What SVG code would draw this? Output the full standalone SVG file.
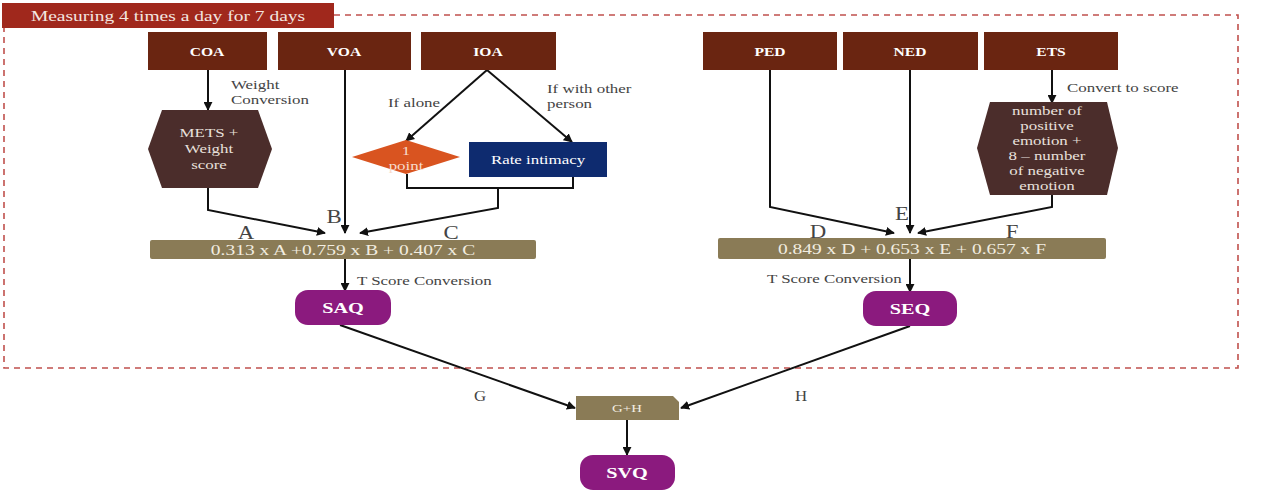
<svg xmlns="http://www.w3.org/2000/svg" width="1274" height="495" viewBox="0 0 1274 495">
<defs>
<marker id="ah" viewBox="0 0 10 10" refX="9" refY="5" markerWidth="9" markerHeight="9" markerUnits="userSpaceOnUse" orient="auto">
<path d="M0,0 L10,5 L0,10 z" fill="#111"/>
</marker>
<style>
text{font-family:"Liberation Serif",serif}
.top{fill:#6a2511}
.tt{font-weight:bold;font-size:12px;fill:#fff;text-anchor:middle}
.hex{fill:#4b2d2b}
.ht{font-size:13px;fill:#e8e0dc;text-anchor:middle}
.pn{font-size:13px;fill:#f7dccd;text-anchor:middle}
.lbl{font-size:13px;fill:#444}
.big{font-size:19px;fill:#444;text-anchor:middle}
.gh{font-size:14px;fill:#444;text-anchor:middle}
.bar{fill:#8a7b56}
.bt{font-size:15px;fill:#f2ede0;text-anchor:middle}
.pur{fill:#8b1a7e}
.pt{font-weight:bold;font-size:15px;fill:#fff;text-anchor:middle}
.ln{fill:none;stroke:#111;stroke-width:2}
</style>
</defs>
<rect width="1274" height="495" fill="#fff"/>
<g id="frame">
<path d="M334,15 H1238 V368 H4 V28" fill="none" stroke="#c0504d" stroke-width="1.6" stroke-dasharray="6,5"/>
<rect x="2" y="3" width="332" height="25" fill="#a0281c"/>
<text transform="translate(168,21) scale(1.3,1)" font-size="15" fill="#f3e6e0" text-anchor="middle">Measuring 4 times a day for 7 days</text>
</g>
<g id="connectors">
<path class="ln" d="M208,70 V110" marker-end="url(#ah)"/>
<path class="ln" d="M208,188 V210 L325,233" marker-end="url(#ah)"/>
<path class="ln" d="M345,70 V233" marker-end="url(#ah)"/>
<path class="ln" d="M487,70 L406,141" marker-end="url(#ah)"/>
<path class="ln" d="M487,70 L572,142" marker-end="url(#ah)"/>
<path class="ln" d="M407,174 V188 H573 V177"/>
<path class="ln" d="M498,188 V208 L360,233" marker-end="url(#ah)"/>
<path class="ln" d="M345,259 V291" marker-end="url(#ah)"/>
<path class="ln" d="M770,70 V207 L894,233" marker-end="url(#ah)"/>
<path class="ln" d="M910,70 V233" marker-end="url(#ah)"/>
<path class="ln" d="M1052,70 V103" marker-end="url(#ah)"/>
<path class="ln" d="M1052,195 V207 L918,233" marker-end="url(#ah)"/>
<path class="ln" d="M910,259 V292" marker-end="url(#ah)"/>
<path class="ln" d="M340,325 L575,408" marker-end="url(#ah)"/>
<path class="ln" d="M910,326 L681,408" marker-end="url(#ah)"/>
<path class="ln" d="M627,420 V455" marker-end="url(#ah)"/>
<text class="lbl" transform="translate(231,89) scale(1.3,1)">Weight</text>
<text class="lbl" transform="translate(231,104) scale(1.3,1)">Conversion</text>
<text class="lbl" transform="translate(388,107) scale(1.3,1)">If alone</text>
<text class="lbl" transform="translate(547,93) scale(1.3,1)">If with other</text>
<text class="lbl" transform="translate(547,108) scale(1.3,1)">person</text>
<text class="lbl" transform="translate(1067,92) scale(1.3,1)">Convert to score</text>
<text class="lbl" transform="translate(357,285) scale(1.3,1)">T Score Conversion</text>
<text class="lbl" transform="translate(767,283) scale(1.3,1)">T Score Conversion</text>
<text class="big" transform="translate(246,239) scale(1.2,1)">A</text>
<text class="big" transform="translate(334,223) scale(1.2,1)">B</text>
<text class="big" transform="translate(451,239) scale(1.2,1)">C</text>
<text class="big" transform="translate(818,238) scale(1.2,1)">D</text>
<text class="big" transform="translate(902,220) scale(1.2,1)">E</text>
<text class="big" transform="translate(1012,238) scale(1.2,1)">F</text>
<text class="gh" transform="translate(480,401) scale(1.2,1)">G</text>
<text class="gh" transform="translate(801,401) scale(1.2,1)">H</text>
</g>
<g id="COA"><rect class="top" x="148" y="32" width="119" height="38"/><text class="tt" transform="translate(207,56) scale(1.3,1)">COA</text></g>
<g id="VOA"><rect class="top" x="278" y="32" width="133" height="38"/><text class="tt" transform="translate(344,56) scale(1.3,1)">VOA</text></g>
<g id="IOA"><rect class="top" x="421" y="32" width="135" height="38"/><text class="tt" transform="translate(488,56) scale(1.3,1)">IOA</text></g>
<g id="PED"><rect class="top" x="703" y="32" width="134" height="38"/><text class="tt" transform="translate(770,56) scale(1.3,1)">PED</text></g>
<g id="NED"><rect class="top" x="843" y="32" width="135" height="38"/><text class="tt" transform="translate(910,56) scale(1.3,1)">NED</text></g>
<g id="ETS"><rect class="top" x="984" y="32" width="134" height="38"/><text class="tt" transform="translate(1051,56) scale(1.3,1)">ETS</text></g>
<g id="METS">
<polygon class="hex" points="162,110 258,110 272,149 258,188 162,188 148,149"/>
<text class="ht" transform="translate(209,137) scale(1.3,1)">METS +</text>
<text class="ht" transform="translate(209,153) scale(1.3,1)">Weight</text>
<text class="ht" transform="translate(209,169) scale(1.3,1)">score</text>
</g>
<g id="point">
<polygon points="406,140 460,157 406,174 352,157" fill="#d95420"/>
<text class="pn" transform="translate(406,155) scale(1.3,1)">1</text>
<text class="pn" transform="translate(406,170) scale(1.3,1)">point</text>
</g>
<g id="intimacy">
<rect x="469" y="142" width="138" height="35" fill="#0e2b6f"/>
<text transform="translate(538,164) scale(1.3,1)" font-size="13" fill="#fff" text-anchor="middle">Rate intimacy</text>
</g>
<g id="emotion">
<polygon class="hex" points="990,102 1107,102 1118,148 1107,195 990,195 977,148"/>
<text class="ht" transform="translate(1047,115) scale(1.3,1)">number of</text>
<text class="ht" transform="translate(1047,130) scale(1.3,1)">positive</text>
<text class="ht" transform="translate(1047,145) scale(1.3,1)">emotion +</text>
<text class="ht" transform="translate(1047,160) scale(1.3,1)">8 – number</text>
<text class="ht" transform="translate(1047,175) scale(1.3,1)">of negative</text>
<text class="ht" transform="translate(1047,190) scale(1.3,1)">emotion</text>
</g>
<g id="formula1"><rect class="bar" x="150" y="240" width="386" height="19" rx="2"/><text class="bt" transform="translate(343,255) scale(1.3,1)">0.313 x A +0.759 x B + 0.407 x C</text></g>
<g id="formula2"><rect class="bar" x="718" y="238" width="388" height="21" rx="2"/><text class="bt" transform="translate(912,254) scale(1.3,1)">0.849 x D + 0.653 x E + 0.657 x F</text></g>
<g id="SAQ"><rect class="pur" x="295" y="290" width="96" height="35" rx="13"/><text class="pt" transform="translate(343,313) scale(1.35,1)">SAQ</text></g>
<g id="SEQ"><rect class="pur" x="863" y="291" width="94" height="35" rx="13"/><text class="pt" transform="translate(910,314) scale(1.35,1)">SEQ</text></g>
<g id="GH"><path class="bar" d="M576,396 H673 L679,402 V420 H576 z"/><text transform="translate(627,412) scale(1.35,1)" font-size="11" fill="#f2ede0" text-anchor="middle">G+H</text></g>
<g id="SVQ"><rect class="pur" x="580" y="455" width="95" height="35" rx="13"/><text class="pt" transform="translate(627,478) scale(1.35,1)">SVQ</text></g>
</svg>
